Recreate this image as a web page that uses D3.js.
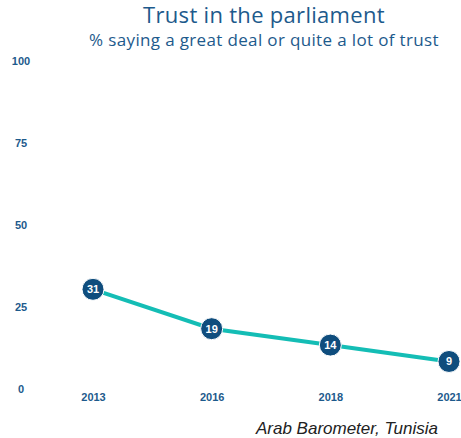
<!DOCTYPE html>
<html>
<head>
<meta charset="utf-8">
<script src="https://cdn.jsdelivr.net/npm/d3@7"></script>
<style>
  html, body { margin: 0; padding: 0; background: #fff; }
  svg { display: block; }
</style>
</head>
<body>
<svg id="chart" width="461" height="438"></svg>
<script>
// Survey waves and share trusting parliament (%)
const years = ["2013", "2016", "2018", "2021"];
const trust = [31, 19, 14, 9];
const yTicks = [0, 25, 50, 75, 100];

const titleText = "Trust in the parliament";
const subtitleText = "% saying a great deal or quite a lot of trust";
const sourceText = "Arab Barometer, Tunisia";

const svg = d3.select("#chart");

const x = d3.scalePoint().domain(years).range([93, 449]);
const y = d3.scaleLinear().domain([0, 100]).range([391, 63]);

const blue = "#1d5a8c";
const dark = "#0f4d7d";
const teal = "#14bdb5";

// Title block
svg.append("text")
  .attr("x", 264).attr("y", 23)
  .attr("text-anchor", "middle")
  .attr("font-family", "Open Sans, Noto Sans, sans-serif")
  .attr("font-size", 22)
  .attr("letter-spacing", 0.3)
  .attr("fill", blue)
  .text(titleText);

svg.append("text")
  .attr("x", 264).attr("y", 46)
  .attr("text-anchor", "middle")
  .attr("font-family", "Open Sans, Noto Sans, sans-serif")
  .attr("font-size", 17)
  .attr("letter-spacing", 0.35)
  .attr("fill", blue)
  .text(subtitleText);

// Y axis labels (no line)
const yAxis = d3.axisLeft(y).tickValues(yTicks).tickSize(0).tickPadding(0);
const gy = svg.append("g").attr("transform", "translate(28,0)").call(yAxis);
gy.select(".domain").remove();
gy.selectAll("text")
  .attr("text-anchor", "middle")
  .attr("x", -7)
  .attr("dy", "0.15em")
  .attr("font-family", "Liberation Sans, Arial, sans-serif")
  .attr("font-weight", "bold")
  .attr("font-size", 11)
  .attr("fill", blue);

// X axis labels
const xAxis = d3.axisBottom(x).tickSize(0).tickPadding(0);
const gx = svg.append("g").attr("transform", "translate(0,393)").call(xAxis);
gx.select(".domain").remove();
gx.selectAll("text")
  .attr("font-family", "Liberation Sans, Arial, sans-serif")
  .attr("font-weight", "bold")
  .attr("font-size", 11)
  .attr("fill", blue);

// Trend line
const data = years.map((yr, i) => ({ yr, v: trust[i] }));
svg.append("path")
  .datum(data)
  .attr("fill", "none")
  .attr("stroke", teal)
  .attr("stroke-width", 4)
  .attr("d", d3.line().x(d => x(d.yr)).y(d => y(d.v)));

// Value markers
const pts = svg.append("g").selectAll("g").data(data).join("g")
  .attr("transform", d => `translate(${x(d.yr)},${y(d.v)})`);
pts.append("circle")
  .attr("r", 11)
  .attr("fill", dark)
  .attr("stroke", "#fff")
  .attr("stroke-width", 1);
pts.append("text")
  .attr("text-anchor", "middle")
  .attr("dy", "0.36em")
  .attr("font-family", "Liberation Sans, Arial, sans-serif")
  .attr("font-weight", "bold")
  .attr("font-size", 11)
  .attr("fill", "#fff")
  .text(d => d.v);

// Source note
svg.append("text")
  .attr("x", 438).attr("y", 434)
  .attr("text-anchor", "end")
  .attr("font-family", "Liberation Sans, Arial, sans-serif")
  .attr("font-style", "italic")
  .attr("font-size", 17)
  .attr("fill", "#222")
  .text(sourceText);
</script>
</body>
</html>
